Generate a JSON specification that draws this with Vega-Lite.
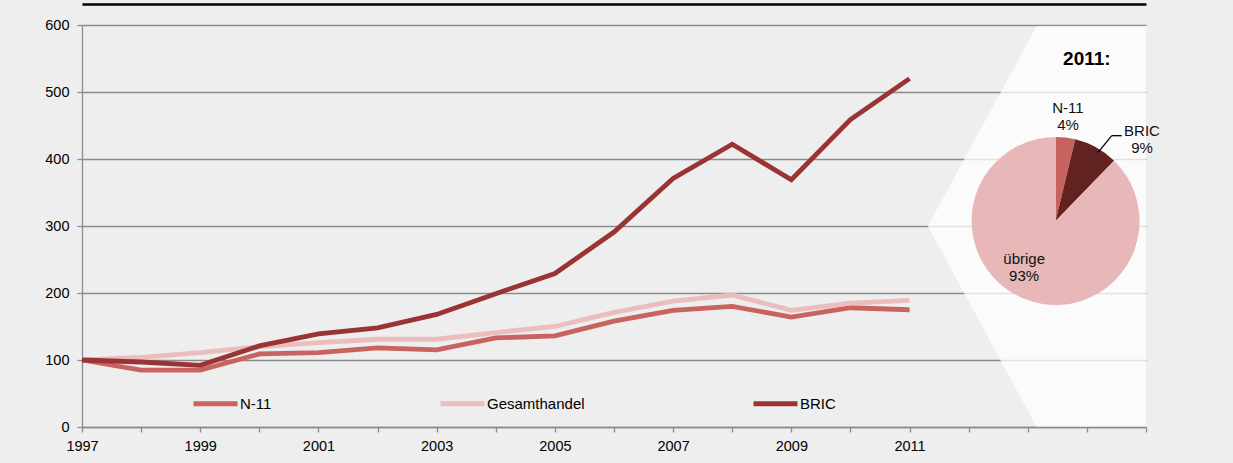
{
  "$schema": "https://vega.github.io/schema/vega-lite/v6.json",
  "width": 1064,
  "height": 402,
  "autosize": "none",
  "padding": {"left": 82, "top": 25, "right": 87, "bottom": 36},
  "background": "#EEEEEE",
  "config": {
    "view": {"stroke": null},
    "font": "Liberation Sans",
    "text": {"font": "Liberation Sans"},
    "axis": {"labelFont": "Liberation Sans", "labelColor": "#000000", "labelFontSize": 14.5}
  },
  "datasets": {
    "trade": [
      {"year": 1997, "series": "N-11", "value": 100},
      {"year": 1998, "series": "N-11", "value": 85},
      {"year": 1999, "series": "N-11", "value": 85},
      {"year": 2000, "series": "N-11", "value": 109},
      {"year": 2001, "series": "N-11", "value": 111},
      {"year": 2002, "series": "N-11", "value": 118},
      {"year": 2003, "series": "N-11", "value": 115},
      {"year": 2004, "series": "N-11", "value": 133},
      {"year": 2005, "series": "N-11", "value": 136},
      {"year": 2006, "series": "N-11", "value": 158},
      {"year": 2007, "series": "N-11", "value": 174},
      {"year": 2008, "series": "N-11", "value": 180},
      {"year": 2009, "series": "N-11", "value": 164},
      {"year": 2010, "series": "N-11", "value": 178},
      {"year": 2011, "series": "N-11", "value": 175},
      {"year": 1997, "series": "Gesamthandel", "value": 100},
      {"year": 1998, "series": "Gesamthandel", "value": 104},
      {"year": 1999, "series": "Gesamthandel", "value": 111},
      {"year": 2000, "series": "Gesamthandel", "value": 120},
      {"year": 2001, "series": "Gesamthandel", "value": 126},
      {"year": 2002, "series": "Gesamthandel", "value": 131},
      {"year": 2003, "series": "Gesamthandel", "value": 131},
      {"year": 2004, "series": "Gesamthandel", "value": 141},
      {"year": 2005, "series": "Gesamthandel", "value": 150},
      {"year": 2006, "series": "Gesamthandel", "value": 171},
      {"year": 2007, "series": "Gesamthandel", "value": 188},
      {"year": 2008, "series": "Gesamthandel", "value": 197},
      {"year": 2009, "series": "Gesamthandel", "value": 174},
      {"year": 2010, "series": "Gesamthandel", "value": 185},
      {"year": 2011, "series": "Gesamthandel", "value": 189},
      {"year": 1997, "series": "BRIC", "value": 100},
      {"year": 1998, "series": "BRIC", "value": 97},
      {"year": 1999, "series": "BRIC", "value": 92},
      {"year": 2000, "series": "BRIC", "value": 121},
      {"year": 2001, "series": "BRIC", "value": 139},
      {"year": 2002, "series": "BRIC", "value": 148},
      {"year": 2003, "series": "BRIC", "value": 168},
      {"year": 2004, "series": "BRIC", "value": 199},
      {"year": 2005, "series": "BRIC", "value": 229},
      {"year": 2006, "series": "BRIC", "value": 291},
      {"year": 2007, "series": "BRIC", "value": 371},
      {"year": 2008, "series": "BRIC", "value": 422},
      {"year": 2009, "series": "BRIC", "value": 369},
      {"year": 2010, "series": "BRIC", "value": 459},
      {"year": 2011, "series": "BRIC", "value": 520}
    ],
    "pie": [
      {"segment": "N-11", "value": 4, "label": "N-11\n4%"},
      {"segment": "BRIC", "value": 9, "label": "BRIC\n9%"},
      {"segment": "übrige", "value": 93, "label": "übrige\n93%"}
    ],
    "chevron": [
      {"x": 2011.31, "lo": 300, "hi": 300},
      {"x": 2013.15, "lo": 0, "hi": 598},
      {"x": 2015, "lo": 0, "hi": 598}
    ]
  },
  "layer": [
    {
      "data": {"name": "chevron"},
      "mark": {"type": "area", "fill": "#FFFFFF", "opacity": 0.75, "interpolate": "linear"},
      "encoding": {
        "x": {"field": "x", "type": "quantitative", "scale": {"domain": [1997, 2015], "nice": false, "zero": false},
              "axis": {"orient": "top", "offset": 21, "domainColor": "#000000", "domainWidth": 2.5, "labels": false, "ticks": false, "grid": false, "title": null}},
        "y": {"field": "lo", "type": "quantitative", "axis": null},
        "y2": {"field": "hi"}
      }
    },
    {
      "data": {"name": "trade"},
      "mark": {"type": "line", "strokeWidth": 4.8, "strokeCap": "butt"},
      "encoding": {
        "x": {"field": "year", "type": "quantitative",
              "axis": {"values": [1997,1998,1999,2000,2001,2002,2003,2004,2005,2006,2007,2008,2009,2010,2011,2012,2013,2014,2015],
                       "format": "d",
                       "labelExpr": "datum.value <= 2011 && (datum.value - 1997) % 2 === 0 ? datum.label : ''",
                       "grid": false, "tickSize": 5, "labelPadding": 7, "domainColor": "#8C8C8C", "domainWidth": 1.3, "tickColor": "#8C8C8C", "tickWidth": 1.3, "zindex": 1, "title": null, "labelFlush": false, "labelOverlap": false}},
        "y": {"field": "value", "type": "quantitative", "scale": {"domain": [0, 600], "nice": false},
              "axis": {"values": [0,100,200,300,400,500,600], "grid": true, "gridColor": "#8C8C8C", "gridWidth": 1.3, "domainColor": "#8C8C8C", "domainWidth": 1.3, "tickColor": "#8C8C8C", "tickWidth": 1.3, "tickSize": 5, "labelPadding": 8, "zindex": 0, "title": null}},
        "color": {"field": "series", "type": "nominal",
                  "scale": {"domain": ["N-11", "Gesamthandel", "BRIC"], "range": ["#C96360", "#EBBDBC", "#9A3434"]},
                  "legend": {"orient": "none", "legendX": 109, "legendY": 354, "direction": "horizontal", "title": null,
                             "symbolType": "stroke", "symbolSize": 1936, "symbolStrokeWidth": 5, "labelFontSize": 15,
                             "labelFont": "Liberation Sans", "labelColor": "#000000", "labelOffset": 0, "columnPadding": 158, "padding": 0}}
      }
    },
    {
      "data": {"name": "pie"},
      "mark": {"type": "arc", "outerRadius": 84},
      "encoding": {
        "x": {"datum": 2013.47, "type": "quantitative", "axis": null},
        "y": {"datum": 307.5, "type": "quantitative", "axis": null},
        "theta": {"field": "value", "type": "quantitative", "stack": true},
        "order": {"field": "value", "type": "quantitative"},
        "fill": {"field": "segment", "type": "nominal",
                 "scale": {"domain": ["N-11", "BRIC", "übrige"], "range": ["#C8625E", "#632222", "#E8B8B8"]},
                 "legend": null}
      }
    },
    {
      "data": {"name": "pie"},
      "mark": {"type": "text", "fontSize": 15, "lineBreak": "\n", "lineHeight": 17, "color": "#111111",
               "align": "center", "baseline": "middle",
               "radius": {"expr": "datum.segment === 'N-11' ? 105 : datum.segment === 'BRIC' ? 119 : 57"},
               "dx": {"expr": "datum.segment === 'BRIC' ? 29 : datum.segment === 'übrige' ? -10 : 0"},
               "dy": {"expr": "datum.segment === 'BRIC' ? 14.5 : datum.segment === 'übrige' ? -14.5 : -8.5"}},
      "encoding": {
        "x": {"datum": 2013.47, "type": "quantitative", "axis": null},
        "y": {"datum": 307.5, "type": "quantitative", "axis": null},
        "theta": {"field": "value", "type": "quantitative", "stack": true},
        "order": {"field": "value", "type": "quantitative"},
        "text": {"field": "label"}
      }
    },
    {
      "data": {"values": [{}]},
      "mark": {"type": "text", "text": "2011:", "fontSize": 19, "fontWeight": "bold", "color": "#000000", "align": "center", "baseline": "middle"},
      "encoding": {
        "x": {"datum": 2014, "type": "quantitative", "axis": null},
        "y": {"datum": 550, "type": "quantitative", "axis": null}
      }
    },
    {
      "data": {"values": [{}]},
      "mark": {"type": "rule", "color": "#000000", "strokeWidth": 1.3},
      "encoding": {
        "x": {"datum": 2014.19, "type": "quantitative", "axis": null},
        "y": {"datum": 410, "type": "quantitative", "axis": null},
        "x2": {"datum": 2014.42},
        "y2": {"datum": 434.8}
      }
    },
    {
      "data": {"values": [{}]},
      "mark": {"type": "rule", "color": "#000000", "strokeWidth": 1.3},
      "encoding": {
        "x": {"datum": 2014.42, "type": "quantitative", "axis": null},
        "y": {"datum": 434.8, "type": "quantitative", "axis": null},
        "x2": {"datum": 2014.59},
        "y2": {"datum": 434.8}
      }
    }
  ],
  "resolve": {"axis": {"x": "independent", "y": "independent"}}
}
